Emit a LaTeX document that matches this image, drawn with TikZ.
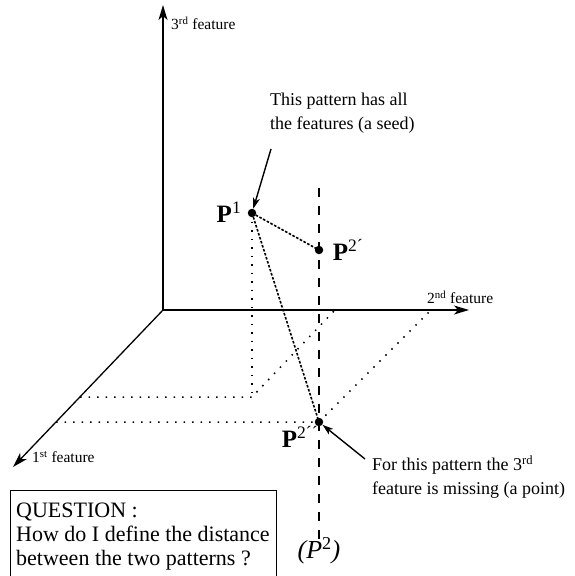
\documentclass[tikz,border=0pt]{standalone}
\usepackage{fontspec}
\setmainfont{Liberation Serif}
\usetikzlibrary{arrows.meta}
\begin{document}
\begin{tikzpicture}[x=1pt,y=-1pt,
  axis/.style={line width=1.3pt,-{Stealth[length=15pt,width=9pt,inset=4pt]}},
  pointer/.style={line width=1.4pt,-{Stealth[length=11pt,width=7pt,inset=3pt]}},
  pt/.style={circle,fill=black,inner sep=0pt,minimum size=8.5pt},
  sparse/.style={line width=1.5pt,dash pattern=on 1.5pt off 7pt},
  dense/.style={line width=1.6pt,dash pattern=on 2.6pt off 1.6pt},
  longdash/.style={line width=1.2pt,dash pattern=on 9pt off 9pt},
  axlabel/.style={font=\fontsize{15.5}{18}\selectfont,anchor=west,inner sep=0pt},
  note/.style={font=\fontsize{18}{24}\selectfont,align=left,anchor=west,inner sep=0pt},
  plabel/.style={font=\fontsize{25}{28}\selectfont,inner sep=0pt}]
\useasboundingbox (0,0) rectangle (574,576);
% axes
\coordinate (O) at (163,310);
\coordinate (Z) at (163,5);
\coordinate (Y) at (469,310);
\coordinate (X) at (13,467);
\draw[axis] (O) -- (Z);
\draw[axis] (O) -- (Y);
\draw[axis] (O) -- (X);
\node[axlabel] (zl) at (171,23) {3\textsuperscript{rd} feature};
\node[axlabel] (yl) at (427,297) {2\textsuperscript{nd} feature};
\node[axlabel] (xl) at (32,457) {1\textsuperscript{st} feature};
% construction points
\coordinate (G1) at (252,397);
\coordinate (G1x) at (80,397);
\coordinate (G1y) at (334,311);
\coordinate (G2x) at (56,422);
\coordinate (G2y) at (430,311);
\coordinate (Dtop) at (319,188);
\coordinate (Dbot) at (319,540);
% points
\node[pt] (p1) at (252,213) {};
\node[pt] (p2a) at (319,250) {};
\node[pt] (p2b) at (319,422) {};
% dashed vertical
\draw[longdash] (Dtop) -- (Dbot);
% projections
\draw[sparse] (p1.center) -- (G1);
\draw[sparse] (G1x) -- (G1) -- (G1y);
\draw[sparse] (G2x) -- (p2b.center) -- (G2y);
% distances
\draw[dense] (p1.center) -- (p2a.center);
\draw[dense] (p1.center) -- (p2b.center);
% labels
\node[plabel] (l1) at (229,212) {\textbf{P}\textsuperscript{1}};
\node[plabel] (l2a) at (348,250) {\textbf{P}\textsuperscript{2´}};
\node[plabel] (l2b) at (300,437) {\textbf{P}\textsuperscript{2´´}};
\node[font=\fontsize{26}{30}\selectfont,inner sep=0pt] (lp2) at (319,551) {\textit{(P}\textsuperscript{2}\textit{)}};
% notes
\node[note] (n1) at (270,113) {This pattern has all\\the features (a seed)};
\coordinate (a1s) at (271,149);
\draw[pointer] (a1s) -- (p1);
\node[note] (n2) at (372,477) {For this pattern the 3\textsuperscript{rd}\\feature is missing (a point)};
\coordinate (a2s) at (365,459);
\draw[pointer] (a2s) -- (p2b);
% question box
\node[font=\fontsize{22}{24}\selectfont,align=left,anchor=north west,inner sep=0pt] (q) at (16,503) {QUESTION :\\How do I define the distance\\between the two patterns ?};
\draw[line width=1pt] (10,580) -- (10,490) -- (276,490) -- (276,580);
\end{tikzpicture}
\end{document}
